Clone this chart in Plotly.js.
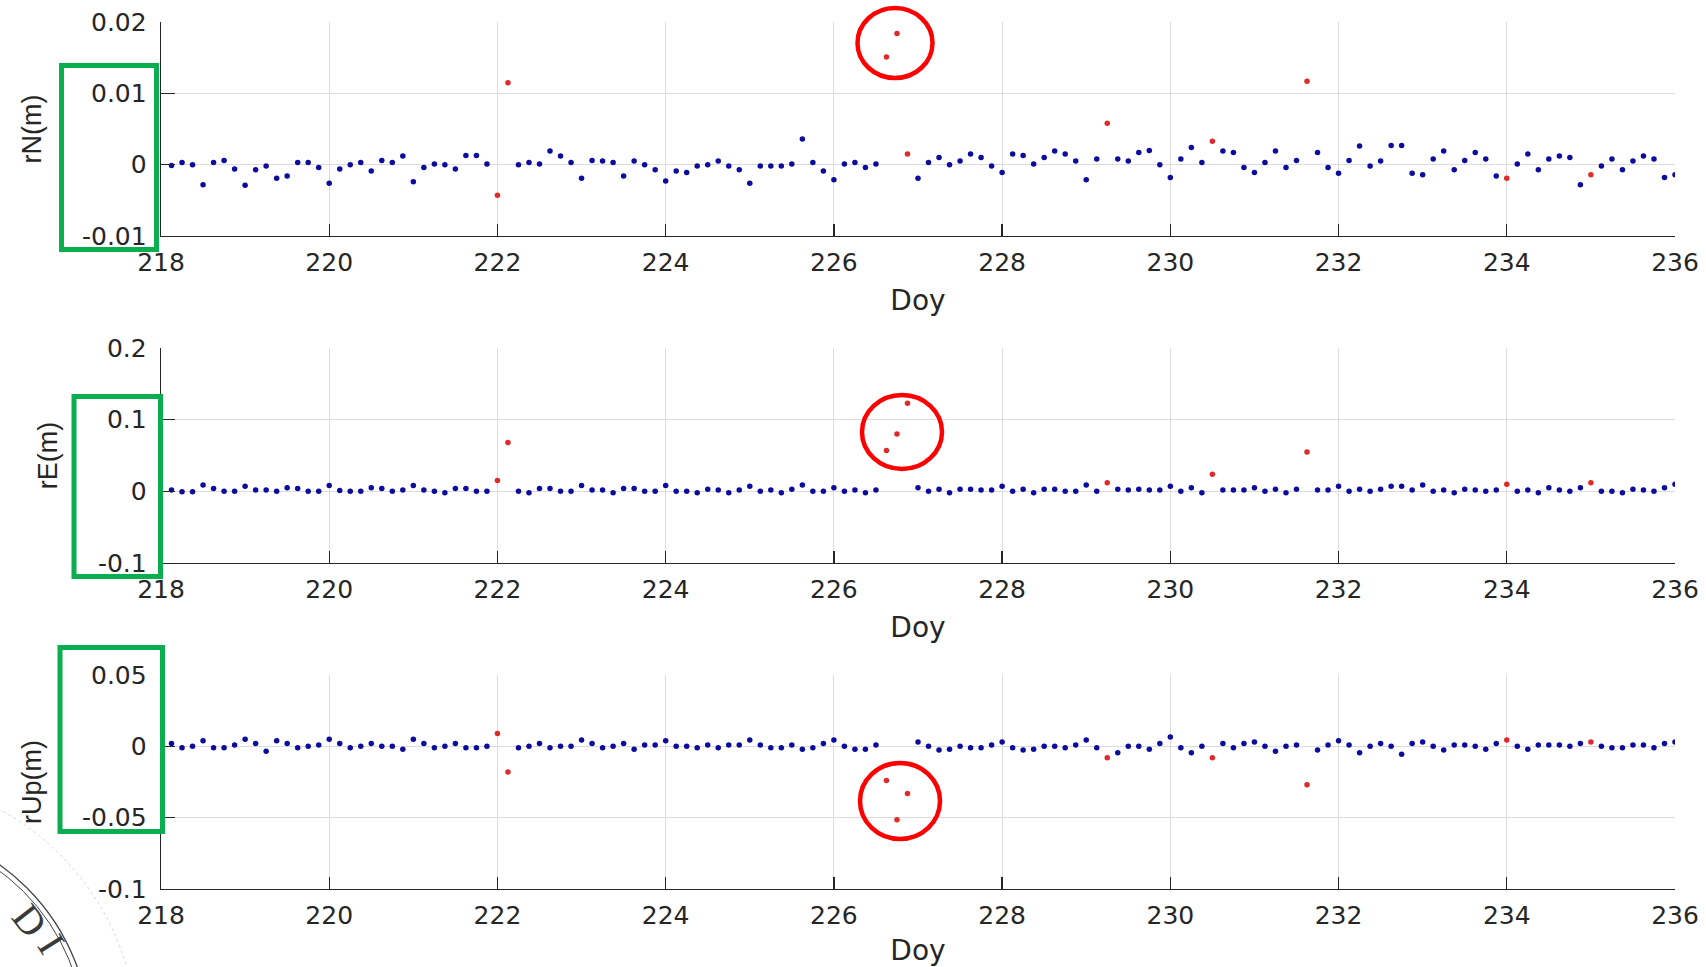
<!DOCTYPE html>
<html>
<head>
<meta charset="utf-8">
<script src="https://cdn.plot.ly/plotly-3.0.1.min.js"></script>
<style>html,body{margin:0;padding:0;background:#fff;}#chart{width:1706px;height:967px;}</style>
</head>
<body>
<div id="chart"></div>
<script>
// ---------------- DATA ----------------
// Day of year of each 3-hour epoch
const doy = [
  218.125,218.25,218.375,218.5,218.625,218.75,218.875,219.0,
  219.125,219.25,219.375,219.5,219.625,219.75,219.875,220.0,
  220.125,220.25,220.375,220.5,220.625,220.75,220.875,221.0,
  221.125,221.25,221.375,221.5,221.625,221.75,221.875,222.0,
  222.125,222.25,222.375,222.5,222.625,222.75,222.875,223.0,
  223.125,223.25,223.375,223.5,223.625,223.75,223.875,224.0,
  224.125,224.25,224.375,224.5,224.625,224.75,224.875,225.0,
  225.125,225.25,225.375,225.5,225.625,225.75,225.875,226.0,
  226.125,226.25,226.375,226.5,226.625,226.75,226.875,227.0,
  227.125,227.25,227.375,227.5,227.625,227.75,227.875,228.0,
  228.125,228.25,228.375,228.5,228.625,228.75,228.875,229.0,
  229.125,229.25,229.375,229.5,229.625,229.75,229.875,230.0,
  230.125,230.25,230.375,230.5,230.625,230.75,230.875,231.0,
  231.125,231.25,231.375,231.5,231.625,231.75,231.875,232.0,
  232.125,232.25,232.375,232.5,232.625,232.75,232.875,233.0,
  233.125,233.25,233.375,233.5,233.625,233.75,233.875,234.0,
  234.125,234.25,234.375,234.5,234.625,234.75,234.875,235.0,
  235.125,235.25,235.375,235.5,235.625,235.75,235.875,236.0
];

// Blue (normal) residuals, null where the epoch is flagged (red)
const rN_blue = [
  -0.0001,0.0003,0.0000,-0.0028,0.0003,0.0006,-0.0006,-0.0029,
  -0.0007,-0.0002,-0.0019,-0.0016,0.0003,0.0003,-0.0004,-0.0026,
  -0.0006,0.0000,0.0003,-0.0009,0.0006,0.0003,0.0012,-0.0024,
  -0.0004,0.0001,0.0000,-0.0006,0.0013,0.0013,0.0001,null,
  null,0.0000,0.0003,0.0001,0.0019,0.0012,0.0003,-0.0019,
  0.0006,0.0005,0.0003,-0.0016,0.0005,0.0000,-0.0007,-0.0023,
  -0.0009,-0.0011,-0.0002,0.0000,0.0005,-0.0002,-0.0007,-0.0026,
  -0.0002,-0.0002,-0.0002,0.0001,0.0036,0.0003,-0.0009,-0.0021,
  0.0001,0.0003,-0.0004,0.0001,null,null,null,-0.0019,
  0.0003,0.0010,0.0000,0.0005,0.0015,0.0010,-0.0002,-0.0011,
  0.0015,0.0013,0.0001,0.0010,0.0019,0.0015,0.0005,-0.0021,
  0.0008,null,0.0008,0.0005,0.0017,0.0020,0.0000,-0.0018,
  0.0008,0.0024,0.0003,null,0.0019,0.0017,-0.0004,-0.0011,
  0.0003,0.0019,-0.0004,0.0006,null,0.0017,-0.0004,-0.0012,
  0.0006,0.0026,-0.0002,0.0005,0.0027,0.0027,-0.0012,-0.0014,
  0.0008,0.0019,-0.0007,0.0006,0.0017,0.0008,-0.0016,null,
  0.0001,0.0015,-0.0007,0.0008,0.0012,0.0010,-0.0028,null,
  -0.0002,0.0008,-0.0007,0.0005,0.0012,0.0008,-0.0018,-0.0014
];

const rE_blue = [
  0.002,-0.0005,-0.0005,0.009,0.004,0.000,0.000,0.007,
  0.002,0.002,0.000,0.005,0.004,0.000,0.000,0.008,
  0.001,0.000,0.000,0.005,0.004,0.000,0.002,0.008,
  0.002,0.000,-0.002,0.004,0.004,0.000,0.000,null,
  null,0.000,-0.002,0.004,0.004,0.000,0.000,0.008,
  0.002,0.002,-0.002,0.004,0.004,0.000,0.000,0.008,
  0.000,0.000,-0.002,0.003,0.002,-0.002,0.002,0.007,
  0.000,0.002,-0.002,0.003,0.009,0.000,0.000,0.005,
  0.000,0.002,-0.002,0.002,null,null,null,0.005,
  0.000,0.003,-0.002,0.003,0.003,0.002,0.002,0.007,
  0.000,0.003,-0.002,0.003,0.003,0.000,0.000,0.009,
  0.000,null,0.003,0.002,0.003,0.002,0.002,0.007,
  0.000,0.005,-0.002,null,0.002,0.002,0.002,0.005,
  0.000,0.003,-0.002,0.003,null,0.002,0.002,0.007,
  0.000,0.003,0.000,0.003,0.007,0.007,0.002,0.009,
  0.000,0.002,-0.002,0.003,0.002,0.000,0.002,null,
  0.000,0.002,-0.002,0.005,0.002,0.000,0.005,null,
  0.000,0.000,-0.002,0.003,0.002,0.000,0.005,0.010
];

const rUp_blue = [
  0.002,-0.001,0.000,0.004,-0.001,-0.001,0.001,0.005,
  0.002,-0.0035,0.004,0.002,-0.001,0.000,0.001,0.005,
  0.002,-0.001,0.000,0.002,0.000,0.000,-0.002,0.005,
  0.002,-0.001,0.000,0.002,-0.001,-0.001,0.000,null,
  null,-0.001,0.000,0.002,-0.001,0.000,0.000,0.0045,
  0.002,-0.001,0.000,0.002,-0.002,0.001,0.001,0.004,
  0.000,0.000,-0.001,0.001,-0.001,0.001,0.001,0.0045,
  0.001,-0.001,-0.001,0.001,-0.002,-0.001,0.002,0.0045,
  0.000,-0.002,-0.002,0.001,null,null,null,0.003,
  0.000,-0.0025,-0.002,0.000,-0.001,-0.001,0.001,0.003,
  -0.001,-0.0025,-0.002,0.000,0.000,-0.001,0.001,0.0045,
  -0.001,null,-0.0045,0.000,0.000,-0.002,0.002,0.0065,
  -0.001,-0.0045,0.000,null,0.002,-0.001,0.002,0.003,
  0.000,-0.0035,0.000,0.001,null,-0.0025,0.001,0.004,
  0.001,-0.0045,0.000,0.002,0.000,-0.0055,0.002,0.003,
  0.000,-0.0025,0.001,0.001,0.000,-0.002,0.002,null,
  0.000,-0.002,0.001,0.001,0.001,0.000,0.002,null,
  0.000,-0.001,-0.001,0.001,0.001,-0.001,0.002,0.003
];

// Flagged (red) epochs and their residuals
const redDoy  = [222.0, 222.125, 226.625, 226.75, 226.875, 229.25, 230.5, 231.625, 234.0, 235.0];
const rN_red  = [-0.0043, 0.0115, 0.0151, 0.0184, 0.0015, 0.0058, 0.0033, 0.0117, -0.0019, -0.0014];
const rE_red  = [0.015, 0.068, 0.057, 0.080, 0.123, 0.012, 0.024, 0.055, 0.010, 0.012];
const rUp_red = [0.009, -0.018, -0.024, -0.0515, -0.033, -0.008, -0.008, -0.027, 0.0045, 0.003];

// Tick labels
const xTickVals = [218,220,222,224,226,228,230,232,234,236];
const xTickText = ['218','220','222','224','226','228','230','232','234','236'];
const rN_tickVals  = [-0.01, 0, 0.01, 0.02];
const rN_tickText  = ['-0.01','0','0.01','0.02'];
const rE_tickVals  = [-0.1, 0, 0.1, 0.2];
const rE_tickText  = ['-0.1','0','0.1','0.2'];
const rUp_tickVals = [-0.1, -0.05, 0, 0.05];
const rUp_tickText = ['-0.1','-0.05','0','0.05'];

// ---------------- STYLE / LAYOUT ----------------
const W = 1706, H = 967;
const PL = 161, PR = 1675, PT = 22, PB = 889;
const px = v => (v - PL) / (PR - PL);
const py = v => (PB - v) / (PB - PT);

const blue = '#0b0b9e', red = '#e02a2a';
const tickFont = {family: 'DejaVu Sans, sans-serif', size: 25, color: '#262626'};
const xTitleFont = {family: 'DejaVu Sans, sans-serif', size: 28, color: '#262626'};
const yTitleFont = {family: 'Liberation Sans, Arial, sans-serif', size: 27, color: '#262626'};

function xa(anchor) {
  return {
    anchor: anchor, domain: [0, 1], range: [218, 236],
    tickmode: 'array', tickvals: xTickVals, ticktext: xTickText,
    showgrid: true, gridcolor: '#dcdcdc', gridwidth: 1,
    showline: true, linecolor: '#262626', linewidth: 1.3,
    ticks: 'inside', ticklen: 12, tickwidth: 1.3, tickcolor: '#262626',
    ticklabelstandoff: 4,
    zeroline: false, tickfont: tickFont,
    title: {text: 'Doy', font: xTitleFont, standoff: 14}
  };
}
function ya(anchor, domain, range, vals, text, title) {
  return {
    anchor: anchor, domain: domain, range: range,
    tickmode: 'array', tickvals: vals, ticktext: text,
    showgrid: true, gridcolor: '#dcdcdc', gridwidth: 1,
    showline: true, linecolor: '#262626', linewidth: 1.3,
    ticks: 'inside', ticklen: 14, tickwidth: 1.3, tickcolor: '#262626',
    ticklabelstandoff: 8,
    zeroline: false, tickfont: tickFont,
    title: {text: title, font: yTitleFont, standoff: 32}
  };
}

function mk(x, y, xaN, yaN, color) {
  return {
    x: x, y: y, xaxis: xaN, yaxis: yaN, type: 'scatter', mode: 'markers',
    marker: {color: color, size: 5.5, symbol: 'circle'},
    hoverinfo: 'x+y', showlegend: false
  };
}

const data = [
  mk(doy, rN_blue, 'x', 'y', blue),
  mk(redDoy, rN_red, 'x', 'y', red),
  mk(doy, rE_blue, 'x2', 'y2', blue),
  mk(redDoy, rE_red, 'x2', 'y2', red),
  mk(doy, rUp_blue, 'x3', 'y3', blue),
  mk(redDoy, rUp_red, 'x3', 'y3', red)
];

const green = '#0aae4e';
function rect(x0, y0, x1, y1) {
  return {type: 'rect', xref: 'paper', yref: 'paper', x0: px(x0), x1: px(x1), y0: py(y1), y1: py(y0),
          line: {color: green, width: 5}, fillcolor: 'rgba(0,0,0,0)', layer: 'above'};
}
function ring(cx, cy, rx, ry, color, width, dash) {
  return {type: 'circle', xref: 'paper', yref: 'paper', x0: px(cx - rx), x1: px(cx + rx), y0: py(cy + ry), y1: py(cy - ry),
          line: {color: color, width: width, dash: dash || 'solid'}, fillcolor: 'rgba(0,0,0,0)', layer: 'above'};
}

const shapes = [
  rect(61.5, 65.5, 156.5, 249.5),
  rect(74, 396.5, 160.5, 576.5),
  rect(60, 647.5, 162.5, 831.5),
  ring(895, 43, 37.5, 35, '#ff0000', 4.5),
  ring(902, 432, 40, 37, '#ff0000', 4.5),
  ring(900, 801, 40, 38, '#ff0000', 4.5),
  // watermark seal (bottom-left)
  ring(-125, 1040, 215, 215, '#444444', 1.3),
  ring(-125, 1040, 210, 210, '#444444', 1.0),
  ring(-125, 1040, 262, 262, '#d8d8d8', 1.0, 'dot')
];

const annotations = [
  {text: 'D', xref: 'paper', yref: 'paper', x: px(30), y: py(920), showarrow: false, textangle: 52,
   font: {family: 'Liberation Serif, serif', size: 40, color: '#3a3a3a'}, xanchor: 'center', yanchor: 'middle'},
  {text: 'I', xref: 'paper', yref: 'paper', x: px(52), y: py(944), showarrow: false, textangle: 58,
   font: {family: 'Liberation Serif, serif', size: 40, color: '#3a3a3a'}, xanchor: 'center', yanchor: 'middle'}
];

const layout = {
  width: W, height: H,
  margin: {l: PL, r: W - PR, t: PT, b: H - PB, pad: 0},
  paper_bgcolor: '#ffffff', plot_bgcolor: '#ffffff',
  showlegend: false,
  xaxis: xa('y'), xaxis2: xa('y2'), xaxis3: xa('y3'),
  yaxis: ya('x', [py(236), py(22)], [-0.01, 0.02], rN_tickVals, rN_tickText, 'rN(m)'),
  yaxis2: ya('x2', [py(563), py(348)], [-0.1, 0.2], rE_tickVals, rE_tickText, 'rE(m)'),
  yaxis3: ya('x3', [py(889), py(675)], [-0.1, 0.05], rUp_tickVals, rUp_tickText, 'rUp(m)'),
  shapes: shapes,
  annotations: annotations
};

Plotly.newPlot('chart', data, layout, {displayModeBar: false, staticPlot: true});
</script>
</body>
</html>
